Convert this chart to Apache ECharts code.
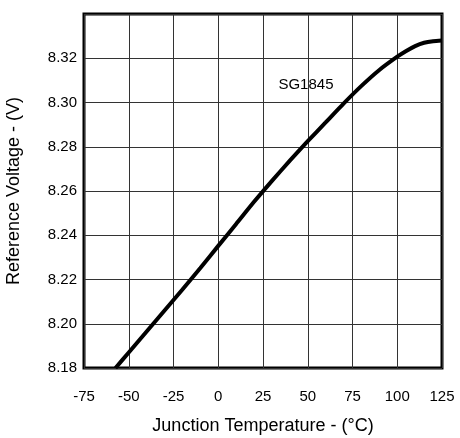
<!DOCTYPE html>
<html>
<head>
<meta charset="utf-8">
<script src="https://cdn.jsdelivr.net/npm/echarts@6/dist/echarts.min.js"></script>
<style>html,body{margin:0;padding:0;background:#fff;}#c{width:460px;height:438px;}</style>
</head>
<body>
<div id="c"></div>
<script>
var temps = [-57.4, -50, -40, -30, -20, -10, 0, 10, 20, 30, 40, 50, 60, 70, 80, 90, 100, 105, 110, 115, 120, 125];
var volts = [8.18, 8.187, 8.1965, 8.206, 8.2155, 8.2252, 8.2352, 8.2451, 8.2551, 8.2646, 8.2737, 8.2825, 8.291, 8.2995, 8.3075, 8.3147, 8.3207, 8.3233, 8.3255, 8.327, 8.3277, 8.328];
var seriesName = 'SG1845';
var labelPos = [49, 8.308];
var xTitle = 'Junction Temperature - (°C)';
var yTitle = 'Reference Voltage - (V)';

var data = temps.map(function (t, i) { return [t, volts[i]]; });
var font = 'Liberation Sans, Arial, Helvetica, sans-serif';
var chart = echarts.init(document.getElementById('c'));
chart.setOption({
  animation: false,
  grid: { left: 84, right: 18, top: 14, bottom: 70, outerBoundsMode: 'none', containLabel: false,
    show: true, borderColor: '#000', borderWidth: 3, backgroundColor: 'transparent' },
  xAxis: {
    type: 'value', min: -75, max: 125, interval: 25,
    name: xTitle, nameLocation: 'middle', nameGap: 49,
    nameTextStyle: { fontFamily: font, fontSize: 18, color: '#000' },
    axisLine: { show: false }, axisTick: { show: false },
    axisLabel: { fontFamily: font, fontSize: 15, color: '#000', margin: 21, showMinLabel: true, showMaxLabel: true },
    splitLine: { show: true, lineStyle: { color: '#333', width: 1 } }
  },
  yAxis: {
    type: 'value', min: 8.18, max: 8.34, interval: 0.02,
    name: yTitle, nameLocation: 'middle', nameGap: 61,
    nameTextStyle: { fontFamily: font, fontSize: 18, color: '#000' },
    axisLine: { show: false }, axisTick: { show: false },
    axisLabel: { fontFamily: font, fontSize: 15, color: '#000', margin: 7,
      formatter: function (v) { return v > 8.335 ? '' : v.toFixed(2); } },
    splitLine: { show: true, lineStyle: { color: '#333', width: 1 } }
  },
  series: [{
    name: seriesName, type: 'line', data: data, smooth: 0.2, symbol: 'none',
    lineStyle: { color: '#000', width: 4 },
    markPoint: {
      symbol: 'circle', symbolSize: 0,
      label: { show: true, formatter: seriesName, fontFamily: font, fontSize: 15, color: '#000', position: 'inside' },
      data: [{ coord: labelPos }]
    }
  }]
});
</script>
</body>
</html>
